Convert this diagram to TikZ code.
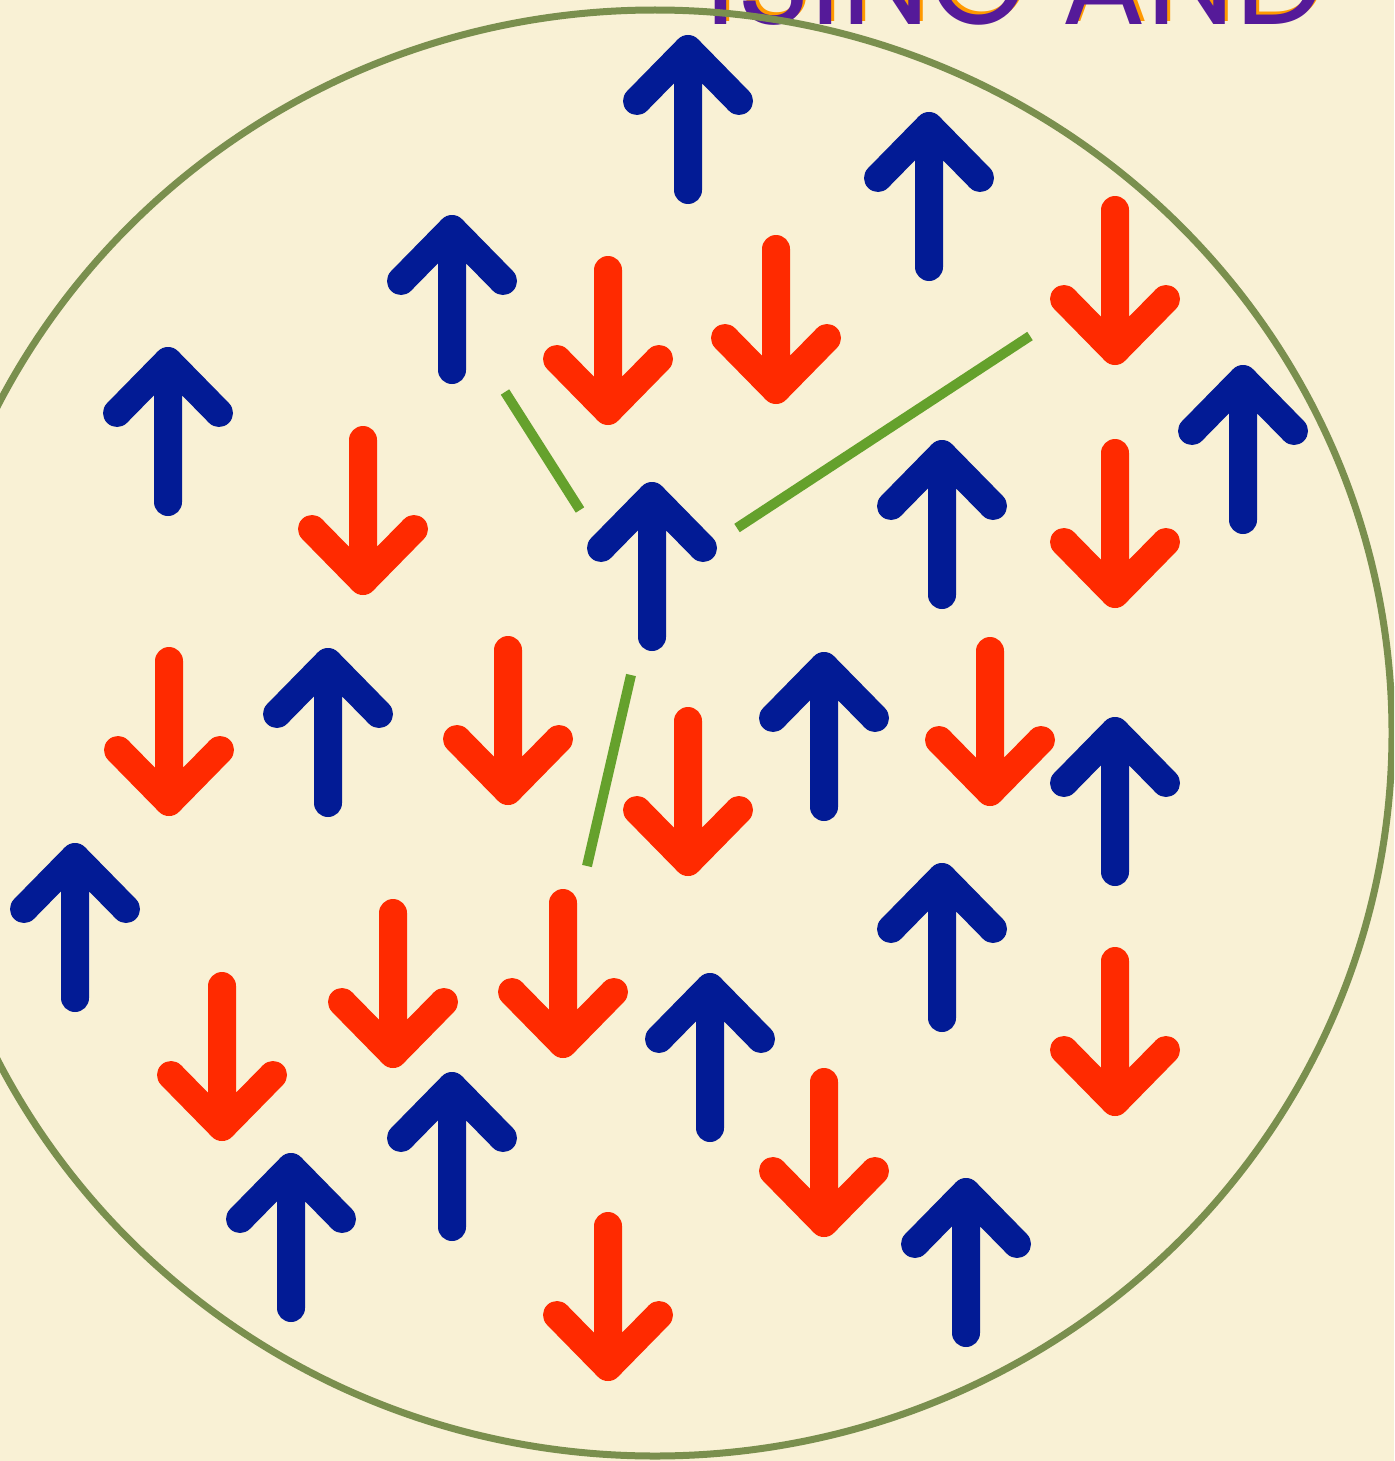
\documentclass[tikz,border=0pt]{standalone}
\usepackage{fontspec}
\newfontfamily\titlefont{Poppins}
\definecolor{paper}{HTML}{F9F1D5}
\definecolor{spinblue}{HTML}{021B95}
\definecolor{spinred}{HTML}{FF2A00}
\definecolor{rim}{HTML}{7A8F4E}
\definecolor{bond}{HTML}{55991A}
\definecolor{titlepurple}{HTML}{551A99}
\definecolor{titleorange}{HTML}{FF9900}
\tikzset{
  arrowline/.style={line width=14pt, line cap=round, line join=round},
  spinup/.pic={\draw[arrowline, spinblue] (-51,52) -- (0,0) -- (51,52) (0,0) -- (0,141);},
  spindown/.pic={\draw[arrowline, spinred] (-51,-52) -- (0,0) -- (51,-52) (0,0) -- (0,-141);},
  bondline/.style={bond, line width=5pt, line cap=butt, opacity=0.9},
  titlestyle/.style={anchor=base west, inner sep=0, font=\titlefont\fontsize{63}{66}\selectfont},
}
\begin{document}
\begin{tikzpicture}[x=0.5pt, y=-0.5pt]
\fill[paper] (0,0) rectangle (1394,1461);
\useasboundingbox (0,0) rectangle (1394,1461);
\begin{scope}
\clip (0,0) rectangle (1394,1461);
% title (cut off at top)
\node[titlestyle, text=titleorange] (titleshadow) at (708,22) {ISING AND};
\node[titlestyle, text=titlepurple] (title) at (705,25) {ISING AND};
% boundary
\draw[rim, line width=3.5pt] (655,733) ellipse [x radius=737, y radius=723];
% bonds
\coordinate (b1a) at (505,392); \coordinate (b1b) at (580,510);
\coordinate (b2a) at (737,528); \coordinate (b2b) at (1030,336);
\coordinate (b3a) at (631,675); \coordinate (b3b) at (587,866);
\draw[bondline] (b1a) -- (b1b);
\draw[bondline] (b2a) -- (b2b);
\draw[bondline] (b3a) -- (b3b);
% up spins
\foreach \x/\y in {688/49, 929/126, 452/229, 168/361, 1243/379, 652/496, 942/454, 328/662, 824/666, 1115/731, 75/857, 942/877, 710/987, 452/1086, 291/1167, 966/1192}
  \pic at (\x,\y) {spinup};
% down spins
\foreach \x/\y in {1115/351, 776/390, 608/411, 363/581, 1115/594, 169/802, 508/791, 990/792, 688/862, 393/1054, 563/1044, 222/1127, 1115/1102, 824/1223, 608/1367}
  \pic at (\x,\y) {spindown};
\end{scope}
\end{tikzpicture}
\end{document}
